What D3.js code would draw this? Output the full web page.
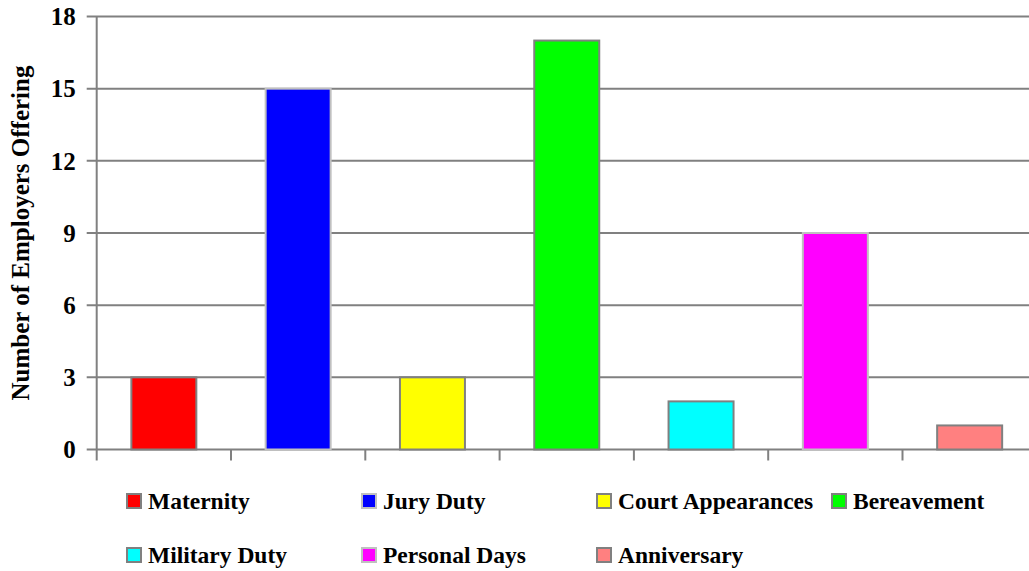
<!DOCTYPE html>
<meta charset="utf-8">
<style>
body { margin: 0; background: #fff; }
text { font-family: "Liberation Serif", "Times New Roman", serif; font-weight: bold; fill: #000; }
</style>
<body>
<script src="https://cdn.jsdelivr.net/npm/d3@7"></script>
<script>

var categories = ["Maternity", "Jury Duty", "Court Appearances", "Bereavement", "Military Duty", "Personal Days", "Anniversary"];
var counts = [3, 15, 3, 17, 2, 9, 1];
var fills = ["#ff0000", "#0000ff", "#ffff00", "#00ff00", "#00ffff", "#ff00ff", "#ff8080"];
var edges = ["#808080", "#c0c0c0", "#808080", "#808080", "#808080", "#c0c0c0", "#808080"];
var yTicks = [0, 3, 6, 9, 12, 15, 18];

var width = 1029,
    height = 571;

var plotLeft = 96.7, plotTop = 16.5, plotBottom = 449.5, step = 134.3;

var svg = d3.select("body").append("svg")
    .attr("width", width)
    .attr("height", height);

var x = d3.scaleBand()
    .domain(categories)
    .range([plotLeft, plotLeft + step * categories.length])
    .paddingInner(0.516)
    .paddingOuter(0.258);

var y = d3.scaleLinear()
    .domain([0, 18])
    .range([plotBottom, plotTop]);

// gridlines + left ticks
svg.append("g")
  .selectAll("line")
  .data(yTicks)
  .enter().append("line")
    .attr("x1", plotLeft - 10)
    .attr("x2", plotLeft + step * categories.length)
    .attr("y1", function(d) { return y(d); })
    .attr("y2", function(d) { return y(d); })
    .attr("stroke", "#808080")
    .attr("stroke-width", 2);

svg.append("g")
  .selectAll("text")
  .data(yTicks)
  .enter().append("text")
    .attr("x", plotLeft - 21)
    .attr("y", function(d) { return y(d); })
    .attr("dy", "0.35em")
    .attr("text-anchor", "end")
    .style("font-size", "25px")
    .text(function(d) { return d; });

// y axis line
svg.append("line")
    .attr("x1", plotLeft).attr("x2", plotLeft)
    .attr("y1", plotTop).attr("y2", plotBottom + 11)
    .attr("stroke", "#808080")
    .attr("stroke-width", 2);

// category boundary ticks
svg.append("g")
  .selectAll("line")
  .data(d3.range(1, categories.length + 1))
  .enter().append("line")
    .attr("x1", function(i) { return plotLeft + i * x.step(); })
    .attr("x2", function(i) { return plotLeft + i * x.step(); })
    .attr("y1", plotBottom)
    .attr("y2", plotBottom + 11)
    .attr("stroke", "#808080")
    .attr("stroke-width", 2);

// bars
svg.append("g")
  .selectAll("rect")
  .data(categories)
  .enter().append("rect")
    .attr("x", function(d) { return x(d); })
    .attr("width", x.bandwidth())
    .attr("y", function(d, i) { return y(counts[i]); })
    .attr("height", function(d, i) { return y(0) - y(counts[i]); })
    .attr("fill", function(d, i) { return fills[i]; })
    .attr("stroke", function(d, i) { return edges[i]; })
    .attr("stroke-width", 2);

// y axis title
svg.append("text")
    .attr("transform", "translate(29," + ((plotTop + plotBottom) / 2) + ") rotate(-90)")
    .attr("text-anchor", "middle")
    .style("font-size", "25px")
    .text("Number of Employers Offering");

// legend
var legend = svg.append("g")
  .selectAll("g")
  .data(categories)
  .enter().append("g")
    .attr("transform", function(d, i) {
      return "translate(" + (127 + (i % 4) * 235) + "," + (501 + Math.floor(i / 4) * 54) + ")";
    });

legend.append("rect")
    .attr("x", 0)
    .attr("y", -7)
    .attr("width", 14)
    .attr("height", 14)
    .attr("fill", function(d, i) { return fills[i]; })
    .attr("stroke", function(d, i) { return edges[i]; })
    .attr("stroke-width", 2);

legend.append("text")
    .attr("x", 21)
    .attr("y", 0)
    .attr("dy", "0.33em")
    .style("font-size", "23.5px")
    .text(function(d) { return d; });

</script>
</body>
